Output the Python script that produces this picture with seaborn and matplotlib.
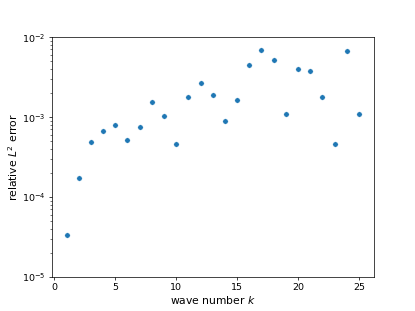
import numpy as np
import pandas as pd
import seaborn as sns
import matplotlib
matplotlib.use("Agg")
import matplotlib.pyplot as plt

# wave numbers and relative L2 errors
wave_number = list(range(1, 26))
rel_error = [3.33e-5, 1.73e-4, 4.9e-4, 6.67e-4, 7.94e-4, 5.14e-4, 7.57e-4, 1.54e-3,
             1.04e-3, 4.54e-4, 1.80e-3, 2.70e-3, 1.89e-3, 8.91e-4, 1.65e-3, 4.41e-3,
             6.81e-3, 5.10e-3, 1.09e-3, 4.01e-3, 3.78e-3, 1.77e-3, 4.62e-4, 6.61e-3,
             1.10e-3]

df = pd.DataFrame({"k": wave_number, "err": rel_error})

plt.rcParams["font.size"] = 12
plt.rcParams["xtick.labelsize"] = 10.5
plt.rcParams["ytick.labelsize"] = 10.5

fig, ax = plt.subplots(figsize=(6.4, 4.8), dpi=64.85)
sns.scatterplot(data=df, x="k", y="err", ax=ax)
ax.set_yscale("log")
ax.set_ylim(1e-5, 1e-2)
ax.set_xticks([0, 5, 10, 15, 20, 25])
ax.set_xlabel("wave number $k$", labelpad=2)
ax.set_ylabel("relative $L^2$ error", labelpad=2)

plt.savefig("out.png", dpi=64.85)
